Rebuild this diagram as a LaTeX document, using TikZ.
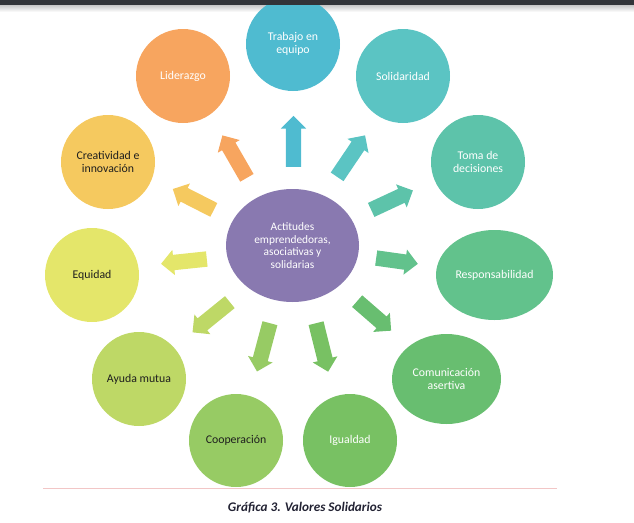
\documentclass[tikz,border=0pt]{standalone}
\usepackage{fontspec}
\setmainfont{Carlito}
\usepackage{tikz}
\usetikzlibrary{shapes.geometric,shapes.arrows}
\definecolor{cTra}{HTML}{4FBBD0}
\definecolor{cSol}{HTML}{5BC4C3}
\definecolor{cLid}{HTML}{F7A55F}
\definecolor{cCre}{HTML}{F5C95F}
\definecolor{cTom}{HTML}{5DC3AA}
\definecolor{cEqu}{HTML}{E4E66A}
\definecolor{cRes}{HTML}{62C28C}
\definecolor{cAyu}{HTML}{BED866}
\definecolor{cCom}{HTML}{68BE70}
\definecolor{cCoo}{HTML}{97CB64}
\definecolor{cIgu}{HTML}{78C163}
\definecolor{cCen}{HTML}{8979B0}
\definecolor{ink}{HTML}{1E1E1E}
\definecolor{capink}{HTML}{222233}
\definecolor{rulecol}{HTML}{F2C6C6}
\definecolor{barcol}{HTML}{323539}
\tikzset{
  bub/.style={ellipse,draw=none,inner sep=0pt,minimum width=94pt,minimum height=94pt,align=center,text=white,font=\fontsize{11.8}{12.9}\selectfont},
  dbub/.style={bub,text=ink},
  blk/.style={single arrow,draw=none,inner sep=0pt,inner ysep=7.5pt,single arrow head extend=5pt,anchor=tail,minimum height=#1},
}
\begin{document}
\begin{tikzpicture}[x=1pt,y=-1pt]
\useasboundingbox (0,0) rectangle (634,522);
\shade[top color=black!22,bottom color=white] (0,5) rectangle (634,12);
% centre
\node[bub,fill=cCen,minimum width=133pt,minimum height=113pt,font=\fontsize{11.4}{12.7}\selectfont] (c) at (292.5,245.5) {Actitudes\\emprendedoras,\\asociativas y\\solidarias};
% values round it
\node[bub,fill=cTra] (tra) at (293,44) {Trabajo en\\equipo};
\node[bub,fill=cSol] (sol) at (403,76) {Solidaridad};
\node[bub,fill=cLid] (lid) at (183,76) {Liderazgo};
\node[dbub,fill=cCre] (cre) at (108,162) {Creatividad e\\innovación};
\node[bub,fill=cTom] (tom) at (478,162) {Toma de\\decisiones};
\node[dbub,fill=cEqu] (equ) at (92,275) {Equidad};
\node[bub,fill=cRes,minimum width=117pt,minimum height=90pt] (res) at (494.5,275) {Responsabilidad};
\node[dbub,fill=cAyu] (ayu) at (139,379) {Ayuda mutua};
\node[bub,fill=cCom,minimum width=109pt,minimum height=90pt] (com) at (446.5,379) {Comunicación\\asertiva};
\node[dbub,fill=cCoo,minimum height=93pt] (coo) at (236,440.5) {Cooperación};
\node[bub,fill=cIgu,minimum height=93pt] (igu) at (350,440.5) {Igualdad};
% block arrows
\node[blk=51,fill=cTra,rotate=90] (aTra) at (293.5,167) {};
\node[blk=49,fill=cLid,rotate=120] (aLid) at (247,178) {};
\node[blk=50,fill=cSol,rotate=56] (aSol) at (337,177) {};
\node[blk=46,fill=cCre,rotate=153] (aCre) at (214,210) {};
\node[blk=46,fill=cTom,rotate=25] (aTom) at (371,210) {};
\node[blk=46,fill=cEqu,rotate=186] (aEqu) at (207,259) {};
\node[blk=42,fill=cRes,rotate=-8] (aRes) at (376,258) {};
\node[blk=48,fill=cAyu,rotate=219] (aAyu) at (230,302) {};
\node[blk=45,fill=cCom,rotate=-41] (aCom) at (357,301) {};
\node[blk=50,fill=cCoo,rotate=255] (aCoo) at (270,323) {};
\node[blk=50,fill=cIgu,rotate=284] (aIgu) at (316,323) {};
% caption
\draw[rulecol,line width=1pt] (43,488.5) -- (557,488.5);
\node[font=\fontsize{13.2}{15}\selectfont\bfseries\itshape,text=capink] (cap) at (305,508) {Gráfica 3. Valores Solidarios};
\fill[barcol] (0,0) rectangle (634,5);
\end{tikzpicture}
\end{document}
